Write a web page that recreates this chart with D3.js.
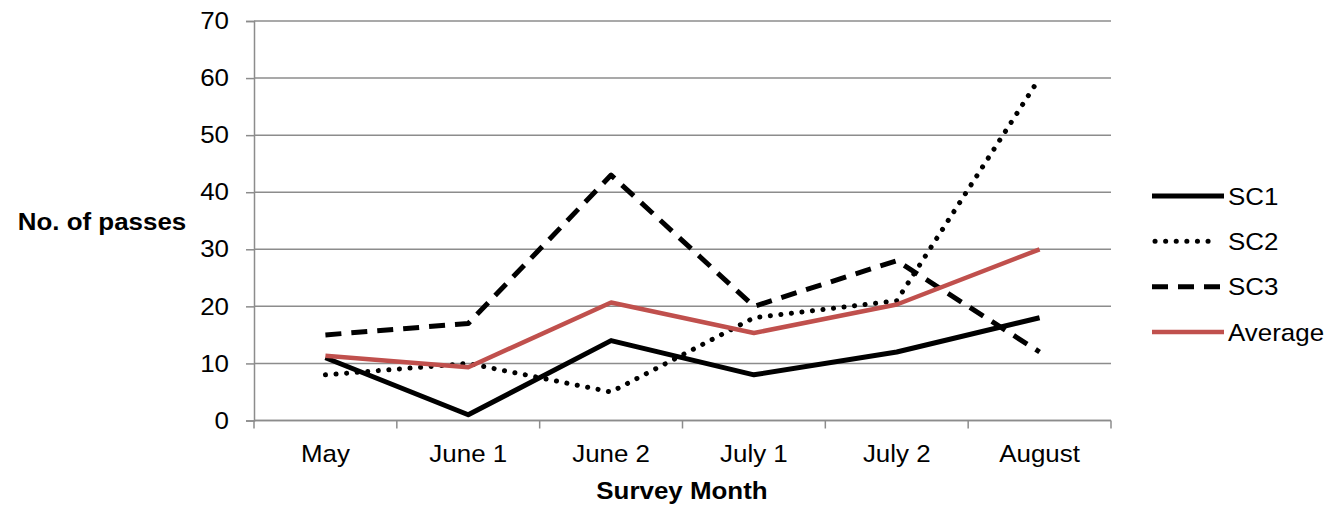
<!DOCTYPE html>
<html>
<head>
<meta charset="utf-8">
<script src="https://cdn.jsdelivr.net/npm/d3@7"></script>
<style>
  html, body { margin: 0; padding: 0; background: #fff; }
  svg { display: block; font-family: "Liberation Sans", Arial, sans-serif; }
</style>
</head>
<body>
<svg id="chart" width="1329" height="505"></svg>
<script>
// Survey months along the x axis
const months = ["May", "June 1", "June 2", "July 1", "July 2", "August"];

// Number of passes recorded at each site
const sc1 = [11, 1, 14, 8, 12, 18];
const sc2 = [8, 10, 5, 18, 21, 60];
const sc3 = [15, 17, 43, 20, 28, 12];
const average = [11.33, 9.33, 20.67, 15.33, 20.33, 30];

const yTicks = [0, 10, 20, 30, 40, 50, 60, 70];

const seriesNames = ["SC1", "SC2", "SC3", "Average"];

const series = [
  { name: seriesNames[0], values: sc1, color: "#000", width: 5, dash: null, cap: "butt" },
  { name: seriesNames[1], values: sc2, color: "#000", width: 5, dash: "0.1 10.5", cap: "round" },
  { name: seriesNames[2], values: sc3, color: "#000", width: 5, dash: "16 10", cap: "butt" },
  { name: seriesNames[3], values: average, color: "#c0504d", width: 4.5, dash: null, cap: "butt" }
];

const svg = d3.select("#chart");
const plotLeft = 254, plotRight = 1111, plotTop = 21, plotBottom = 420.5;
const fontSize = 24;
const stretch = 1.08; // slightly wide lettering

const x = d3.scaleBand().domain(months).range([plotLeft, plotRight]).paddingInner(0).paddingOuter(0);
const y = d3.scaleLinear().domain([0, 70]).range([plotBottom, plotTop]);

const gridColor = "#8c8c8c";

// places a text label at (px, py) with the wide lettering
function label(sel, px, py) {
  return sel.attr("x", 0).attr("y", 0)
    .attr("transform", `translate(${px},${py}) scale(${stretch},1)`)
    .attr("font-size", fontSize);
}

// horizontal gridlines
svg.append("g")
  .selectAll("line")
  .data(yTicks)
  .join("line")
  .attr("x1", plotLeft).attr("x2", plotRight)
  .attr("y1", d => y(d)).attr("y2", d => y(d))
  .attr("stroke", gridColor).attr("stroke-width", 1.5);

// y axis
const yAxis = svg.append("g")
  .attr("transform", `translate(${plotLeft},0)`)
  .call(d3.axisLeft(y).tickValues(yTicks).tickSize(8).tickPadding(15).tickFormat(d3.format("d")));
yAxis.select(".domain").attr("stroke", gridColor).attr("stroke-width", 1.5);
yAxis.selectAll(".tick line").attr("stroke", gridColor).attr("stroke-width", 1.5);
yAxis.selectAll(".tick text")
  .attr("font-size", fontSize).attr("fill", "#000")
  .attr("font-family", "Liberation Sans, Arial, sans-serif")
  .attr("transform", `scale(${stretch},1)`)
  .attr("x", -25 / stretch);

// x axis with ticks at band boundaries
const xAxisG = svg.append("g").attr("transform", `translate(0,${plotBottom})`);
xAxisG.append("line")
  .attr("x1", plotLeft).attr("x2", plotRight)
  .attr("stroke", gridColor).attr("stroke-width", 1.5);
const boundaries = months.map(m => x(m)).concat([plotRight]);
xAxisG.selectAll("line.tk")
  .data(boundaries)
  .join("line").attr("class", "tk")
  .attr("x1", d => d).attr("x2", d => d)
  .attr("y1", 0).attr("y2", 8)
  .attr("stroke", gridColor).attr("stroke-width", 1.5);
xAxisG.selectAll("text")
  .data(months)
  .join("text")
  .each(function (d) { label(d3.select(this), x(d) + x.bandwidth() / 2, 41.5); })
  .attr("text-anchor", "middle")
  .text(d => d);

// axis titles
label(svg.append("text"), 102, 230)
  .attr("text-anchor", "middle")
  .attr("font-weight", "bold")
  .text("No. of passes");
label(svg.append("text"), 682, 499)
  .attr("text-anchor", "middle")
  .attr("font-weight", "bold")
  .text("Survey Month");

// series lines
const line = d3.line()
  .x((d, i) => x(months[i]) + x.bandwidth() / 2)
  .y(d => y(d));

svg.append("g")
  .selectAll("path")
  .data(series)
  .join("path")
  .attr("d", d => line(d.values))
  .attr("fill", "none")
  .attr("stroke", d => d.color)
  .attr("stroke-width", d => d.width)
  .attr("stroke-dasharray", d => d.dash)
  .attr("stroke-linecap", d => d.cap)
  .attr("stroke-linejoin", "round");

// legend
const legendY = d3.scalePoint().domain(seriesNames).range([196, 332]);
const legend = svg.append("g")
  .selectAll("g")
  .data(series)
  .join("g")
  .attr("transform", d => `translate(1152,${legendY(d.name)})`);
legend.append("line")
  .attr("x1", d => d.cap === "round" ? 3 : 0)
  .attr("x2", d => d.cap === "round" ? 64 : 72)
  .attr("stroke", d => d.color)
  .attr("stroke-width", d => d.width)
  .attr("stroke-dasharray", d => d.dash)
  .attr("stroke-linecap", d => d.cap);
legend.selectAll("text")
  .data(d => [d])
  .join("text")
  .each(function () { label(d3.select(this), 76, 8.5); })
  .text(d => d.name);
</script>
</body>
</html>
